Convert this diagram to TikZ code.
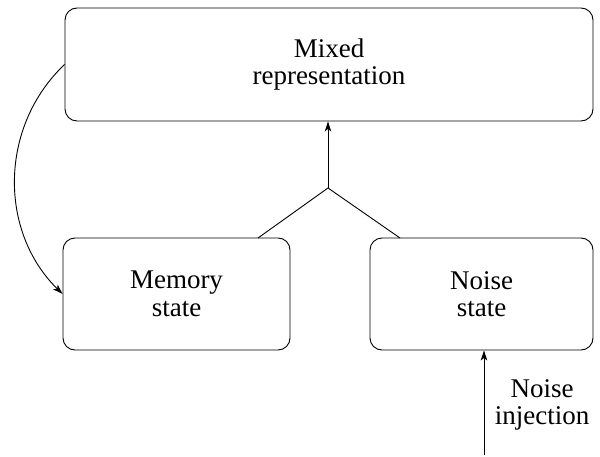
\documentclass[tikz,border=0pt]{standalone}
\usepackage{fontspec}
\newfontfamily\tnrfont{Liberation Serif}
\usetikzlibrary{arrows.meta}
\begin{document}
\begin{tikzpicture}[x=1pt,y=1pt,
  txt/.style={font=\tnrfont\fontsize{27}{27.5}\selectfont},
  box/.style={txt, draw, line width=0.9pt, rounded corners=12pt, align=center, inner sep=0pt},
  arr/.style={-{Stealth[length=10pt,width=6.5pt,inset=2.5pt]}, line width=0.9pt},
  lbl/.style={txt, align=center, inner sep=0pt}]
\useasboundingbox (0,0) rectangle (600,456);
\node[box, minimum width=528pt, minimum height=113pt] (mix) at (329,391.5) {Mixed\\representation};
\node[box, minimum width=227pt, minimum height=112pt] (mem) at (176.5,162) {Memory\\state};
\node[box, minimum width=223pt, minimum height=112pt] (noise) at (481.5,162) {Noise\\state};
\coordinate (j) at (328,268);
\coordinate (ml) at (258,218);
\coordinate (nr) at (400,218);
\coordinate (inj) at (484,1);
\draw[line width=0.9pt] (ml) -- (j) -- (nr);
\draw[arr] (j) -- (j |- mix.south);
\draw[arr] (mix.west) to[bend right=46] (mem.west);
\draw[arr] (inj) -- (inj |- noise.south);
\node[lbl] (injl) at (542,51) {Noise\\injection};
\end{tikzpicture}
\end{document}
